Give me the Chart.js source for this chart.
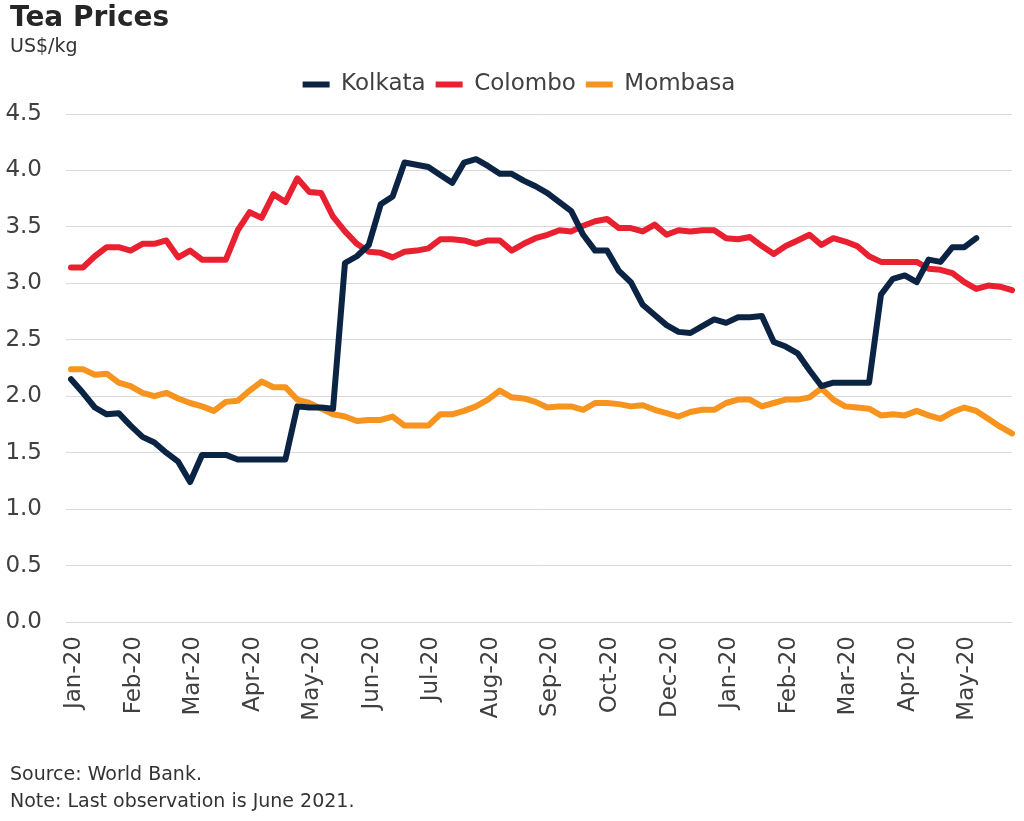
<!DOCTYPE html>
<html>
<head>
<meta charset="utf-8">
<script src="https://cdn.jsdelivr.net/npm/chart.js@4"></script>
<style>
  html, body { margin: 0; padding: 0; background: #fff; }
  body { width: 1024px; height: 821px; position: relative; overflow: hidden; font-family: "DejaVu Sans", Verdana, sans-serif; color: #333; }
  #chartBox { position: absolute; left: 0; top: 0; width: 1024px; height: 821px; }
  .txt { position: absolute; left: 10px; white-space: nowrap; }
  #title { top: 3px; font-size: 28px; line-height: 28px; font-weight: bold; color: #262626; }
  #unit { top: 36px; font-size: 19px; line-height: 19px; }
  #source { top: 764px; font-size: 19px; line-height: 19px; }
  #note { top: 791px; font-size: 19px; line-height: 19px; }
</style>
</head>
<body>
<div id="chartBox"><canvas id="teaChart"></canvas></div>
<div class="txt" id="title">Tea Prices</div>
<div class="txt" id="unit">US$/kg</div>
<div class="txt" id="source">Source: World Bank.</div>
<div class="txt" id="note">Note: Last observation is June 2021.</div>
<script>
// Libellés affichés sur l'axe des x (un tous les 5 points)
const tickLabels = ['Jan-20', 'Feb-20', 'Mar-20', 'Apr-20', 'May-20', 'Jun-20', 'Jul-20', 'Aug-20',
                    'Sep-20', 'Oct-20', 'Dec-20', 'Jan-20', 'Feb-20', 'Mar-20', 'Apr-20', 'May-20'];
const pointsPerLabel = 5;

const seriesNames = ['Kolkata', 'Colombo', 'Mombasa'];
const seriesColors = ['#0b2444', '#e8202f', '#f7941d'];

// Prix US$/kg
const kolkata = [2.15, 2.03, 1.90, 1.84, 1.85, 1.74, 1.64, 1.59, 1.50, 1.42,
                 1.24, 1.48, 1.48, 1.48, 1.44, 1.44, 1.44, 1.44, 1.44, 1.91,
                 1.90, 1.90, 1.89, 3.18, 3.24, 3.34, 3.70, 3.77, 4.07, 4.05,
                 4.03, 3.96, 3.89, 4.07, 4.10, 4.04, 3.97, 3.97, 3.91, 3.86,
                 3.80, 3.72, 3.64, 3.43, 3.29, 3.29, 3.11, 3.01, 2.81, 2.72,
                 2.63, 2.57, 2.56, 2.62, 2.68, 2.65, 2.70, 2.70, 2.71, 2.48,
                 2.44, 2.38, 2.23, 2.09, 2.12, 2.12, 2.12, 2.12, 2.90, 3.04,
                 3.07, 3.01, 3.21, 3.19, 3.32, 3.32, 3.40, null, null, null];

const colombo = [3.14, 3.14, 3.24, 3.32, 3.32, 3.29, 3.35, 3.35, 3.38, 3.23,
                 3.29, 3.21, 3.21, 3.21, 3.47, 3.63, 3.58, 3.79, 3.72, 3.93,
                 3.81, 3.80, 3.59, 3.46, 3.35, 3.28, 3.27, 3.23, 3.28, 3.29,
                 3.31, 3.39, 3.39, 3.38, 3.35, 3.38, 3.38, 3.29, 3.35, 3.40,
                 3.43, 3.47, 3.46, 3.51, 3.55, 3.57, 3.49, 3.49, 3.46, 3.52,
                 3.43, 3.47, 3.46, 3.47, 3.47, 3.40, 3.39, 3.41, 3.33, 3.26,
                 3.33, 3.38, 3.43, 3.34, 3.40, 3.37, 3.33, 3.24, 3.19, 3.19,
                 3.19, 3.19, 3.13, 3.12, 3.09, 3.01, 2.95, 2.98, 2.97, 2.94];

const mombasa = [2.24, 2.24, 2.19, 2.20, 2.12, 2.09, 2.03, 2.00, 2.03, 1.98,
                 1.94, 1.91, 1.87, 1.95, 1.96, 2.05, 2.13, 2.08, 2.08, 1.97,
                 1.94, 1.89, 1.84, 1.82, 1.78, 1.79, 1.79, 1.82, 1.74, 1.74,
                 1.74, 1.84, 1.84, 1.87, 1.91, 1.97, 2.05, 1.99, 1.98, 1.95,
                 1.90, 1.91, 1.91, 1.88, 1.94, 1.94, 1.93, 1.91, 1.92, 1.88,
                 1.85, 1.82, 1.86, 1.88, 1.88, 1.94, 1.97, 1.97, 1.91, 1.94,
                 1.97, 1.97, 1.99, 2.07, 1.97, 1.91, 1.90, 1.89, 1.83, 1.84,
                 1.83, 1.87, 1.83, 1.80, 1.86, 1.90, 1.87, 1.80, 1.73, 1.67];

const yTicks = { min: 0, max: 4.5, step: 0.5 };

// une étiquette par observation, vide sauf au début de chaque mois affiché
const labels = mombasa.map((_, i) => i % pointsPerLabel === 0 ? tickLabels[i / pointsPerLabel] : '');

const datasets = [kolkata, colombo, mombasa].map((data, i) => ({
    label: seriesNames[i],
    data: data,
    borderColor: seriesColors[i],
    backgroundColor: seriesColors[i],
    borderWidth: 6,
    borderCapStyle: 'round',
    borderJoinStyle: 'round',
    pointRadius: 0,
    tension: 0,
    spanGaps: false
}));

// légende : un peu d'espace dessous et centrage décalé comme sur l'original
const legendTweak = {
    id: 'legendTweak',
    afterInit(chart) {
        const fit = chart.legend.fit;
        chart.legend.fit = function () { fit.call(this); this.height += 8; };
    },
    afterLayout(chart) {
        chart.legend.left += 13;
        chart.legend.right += 13;
    }
};

const textColor = '#404040';
const font = { family: '"DejaVu Sans", Verdana, sans-serif', size: 23 };

new Chart(document.getElementById('teaChart'), {
    type: 'line',
    data: { labels, datasets },
    plugins: [legendTweak],
    options: {
        responsive: true,
        maintainAspectRatio: false,
        animation: false,
        layout: { padding: { top: 63, left: 0, right: 12, bottom: 0 } },
        plugins: {
            legend: {
                position: 'top',
                labels: {
                    usePointStyle: true,
                    pointStyle: 'line',
                    pointStyleWidth: 27,
                    boxHeight: 6,
                    padding: 10,
                    color: textColor,
                    font: font
                }
            },
            tooltip: { enabled: false }
        },
        scales: {
            x: {
                afterFit: scale => {
                    scale.height = 199;
                    scale.paddingLeft = 0;
                    scale.paddingRight = 0;
                },
                grid: { display: false, drawTicks: false },
                border: { display: false },
                ticks: {
                    autoSkip: false,
                    maxRotation: 90,
                    minRotation: 90,
                    padding: 14,
                    labelOffset: 3,
                    color: textColor,
                    font: font
                }
            },
            y: {
                min: yTicks.min,
                max: yTicks.max,
                afterFit: scale => { scale.width = 71; },
                grid: { color: '#d9d9d9', lineWidth: 1, drawTicks: true, tickLength: 5, tickColor: '#d9d9d9' },
                border: { display: false },
                ticks: {
                    stepSize: yTicks.step,
                    padding: 24,
                    color: textColor,
                    font: font,
                    callback: v => v.toFixed(1)
                }
            }
        }
    }
});
</script>
</body>
</html>
